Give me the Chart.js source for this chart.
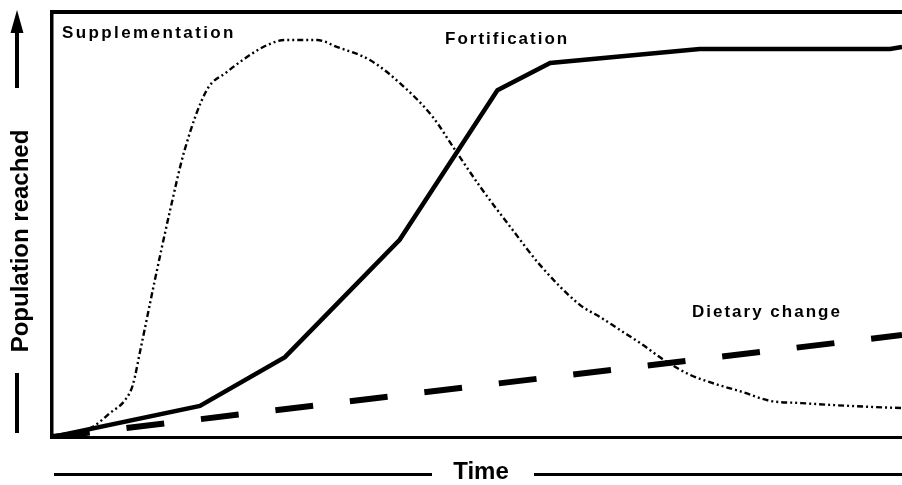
<!DOCTYPE html>
<html>
<head>
<meta charset="utf-8">
<script src="https://cdn.jsdelivr.net/npm/chart.js@4.4.1/dist/chart.umd.min.js"></script>
<style>
  body { margin:0; background:#fff; }
  canvas { display:block; }
</style>
</head>
<body>
<canvas id="c" width="902" height="485"></canvas>
<script>
// curves, x = time (0-100), y = population reached (0-100)
const supX = [0,2.1,4.8,6.8,8.6,9.5,10.4,12.1,13.9,15.6,18.2,20.6,23.3,25.3,27.4,31.2,33.5,37.4,40.9,44.8,47.2,50.4,54.2,57.4,62.1,64.5,66.8,69.2,72.4,75.1,78.0,80.9,84.5,88.0,93.9,100];
const supY = [0,0.5,2.4,5.6,8.7,12.2,20.5,36.9,53.4,67.5,81.6,85.9,89.9,92.2,93.4,93.4,91.8,88.7,83.3,75.3,68.2,58.8,48.7,40.5,31.1,28.2,25.2,22.1,17.6,14.6,12.5,10.8,8.5,8.0,7.3,6.8];
const fortX = [0,17.4,27.4,40.9,52.4,58.6,76.2,98.6,100];
const fortY = [0,7.3,18.8,46.4,81.6,88.0,91.3,91.3,91.8];
const dietX = [0,100];
const dietY = [0,24];
const seriesNames = ['Supplementation','Fortification','Dietary change'];
const yTitle = 'Population reached';
const xTitle = 'Time';

const pts = (xs, ys) => xs.map((x,i)=>({x:x, y:ys[i]}));
const FONT = '"Liberation Sans", Arial, sans-serif';

// frame, axis arrows, titles and curve labels
const decor = {
  id:'decor',
  afterDraw(chart){
    const ctx = chart.ctx, a = chart.chartArea;
    ctx.save();
    ctx.fillStyle = '#000';
    // box: top, left, bottom
    ctx.fillRect(a.left-2, a.top-2, a.right-a.left+2, 4);
    ctx.fillRect(a.left-2, a.top-2, 3.5, a.bottom-a.top+4);
    ctx.fillRect(a.left-2, a.bottom-1, a.right-a.left+2, 3);

    // y arrow
    ctx.fillRect(15, 30, 4, 58);
    ctx.beginPath();
    ctx.moveTo(17, 10); ctx.lineTo(23.5, 33); ctx.lineTo(10.5, 33); ctx.closePath();
    ctx.fill();
    ctx.fillRect(15, 373, 4, 60);

    // y title
    ctx.save();
    ctx.translate(21, 241);
    ctx.rotate(-Math.PI/2);
    ctx.font = 'bold 24px ' + FONT;
    ctx.textAlign = 'center'; ctx.textBaseline = 'middle';
    ctx.fillText(yTitle, 0, 0);
    ctx.restore();

    // x title with rules
    ctx.fillRect(54, 473, 378, 3);
    ctx.fillRect(534, 473, 368, 3);
    ctx.font = 'bold 24px ' + FONT;
    ctx.textAlign = 'center'; ctx.textBaseline = 'alphabetic';
    ctx.fillText(xTitle, 481, 479);

    // curve labels
    ctx.font = 'bold 17px ' + FONT;
    ctx.textAlign = 'left';
    ctx.letterSpacing = '2.4px';
    ctx.fillText(seriesNames[0], 62, 38);
    ctx.letterSpacing = '2px';
    ctx.fillText(seriesNames[1], 445, 44);
    ctx.fillText(seriesNames[2], 692, 317);
    ctx.restore();
  }
};

new Chart(document.getElementById('c'), {
  type:'line',
  data:{
    datasets:[
      {label:seriesNames[0], data:pts(supX,supY), borderColor:'#000', borderWidth:2.4,
       borderDash:[6,3,2,3,2,3], cubicInterpolationMode:'monotone', pointRadius:0},
      {label:seriesNames[1], data:pts(fortX,fortY), borderColor:'#000', borderWidth:4.5,
       tension:0, pointRadius:0},
      {label:seriesNames[2], data:pts(dietX,dietY), borderColor:'#000', borderWidth:6,
       borderDash:[38,37], tension:0, pointRadius:0}
    ]
  },
  options:{
    responsive:false,
    animation:false,
    devicePixelRatio:1,
    layout:{padding:{left:52, right:0, top:12, bottom:48}},
    scales:{
      x:{type:'linear', min:0, max:100, display:false},
      y:{min:0, max:100, display:false}
    },
    plugins:{legend:{display:false}, tooltip:{enabled:false}},
    elements:{point:{radius:0}}
  },
  plugins:[decor]
});
</script>
</body>
</html>
